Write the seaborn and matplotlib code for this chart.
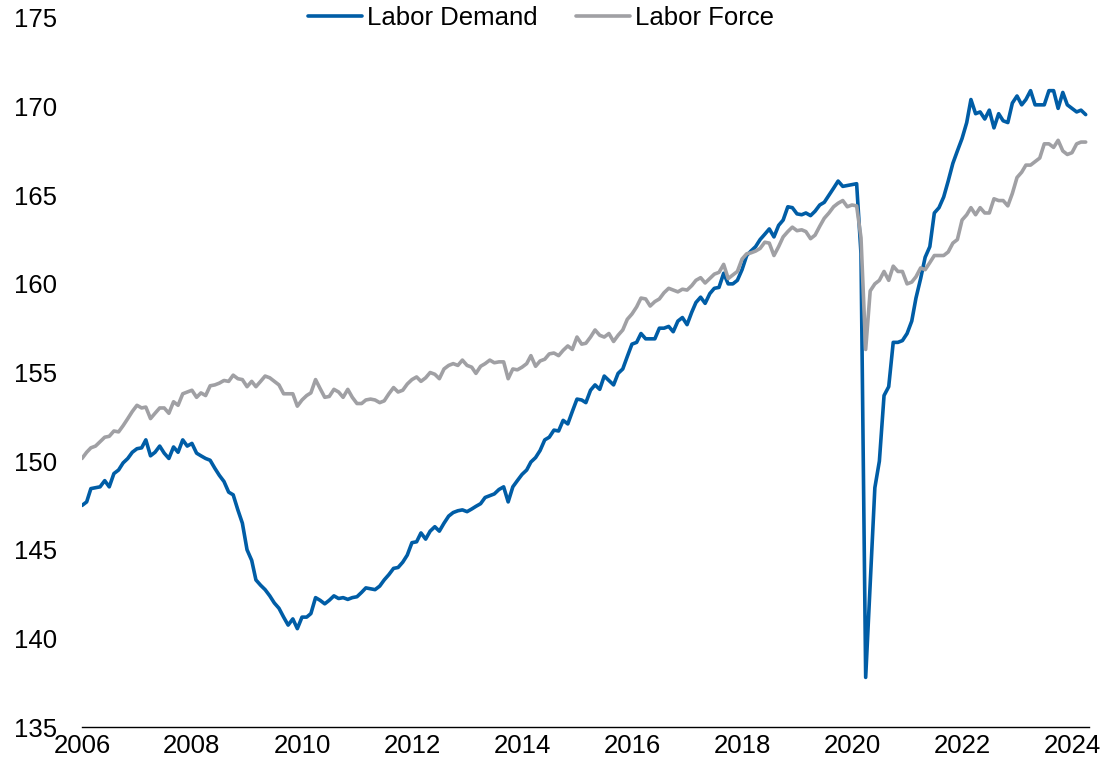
import pandas as pd
import seaborn as sns
import matplotlib.pyplot as plt
import matplotlib.dates as mdates

# Monthly values in millions, Jan 2006 - Apr 2024 (one row per year)
demand_2006_2011 = [
    147.5, 147.7, 148.45, 148.5, 148.55, 148.9, 148.55, 149.3, 149.5, 149.9, 150.15, 150.5,
    150.7, 150.75, 151.2, 150.3, 150.5, 150.85, 150.45, 150.15, 150.8, 150.5, 151.2, 150.85,
    151.0, 150.45, 150.3, 150.15, 150.05, 149.6, 149.2, 148.85, 148.25, 148.1, 147.25, 146.5,
    145.0, 144.4, 143.3, 143.0, 142.75, 142.4, 142.0, 141.7, 141.2, 140.75, 141.1, 140.55,
    141.2, 141.2, 141.4, 142.3, 142.15, 141.95, 142.15, 142.4, 142.25, 142.3, 142.2, 142.3,
    142.35, 142.6, 142.85, 142.8, 142.75, 142.95, 143.3, 143.6, 143.95, 144.0, 144.3, 144.7,
]
demand_2012_2017 = [
    145.4, 145.45, 145.95, 145.6, 146.05, 146.3, 146.05, 146.5, 146.9, 147.1, 147.2, 147.25,
    147.15, 147.3, 147.45, 147.6, 147.95, 148.05, 148.15, 148.4, 148.55, 147.7, 148.55, 148.9,
    149.25, 149.5, 149.95, 150.2, 150.6, 151.2, 151.35, 151.75, 151.7, 152.3, 152.1, 152.8,
    153.5, 153.45, 153.3, 154.0, 154.3, 154.05, 154.8, 154.55, 154.3, 154.95, 155.2, 155.9,
    156.6, 156.7, 157.2, 156.9, 156.9, 156.9, 157.5, 157.5, 157.6, 157.3, 157.9, 158.1,
    157.7, 158.4, 158.95, 159.25, 158.9, 159.45, 159.75, 159.8, 160.6, 160.0, 160.0, 160.2,
]
demand_2018_2024 = [
    160.8, 161.6, 161.85, 162.1, 162.5, 162.8, 163.1, 162.65, 163.3, 163.6, 164.35, 164.3,
    163.95, 163.9, 164.0, 163.85, 164.1, 164.45, 164.6, 165.0, 165.4, 165.8, 165.5, 165.55,
    165.6, 165.65, 161.7, 137.8, 143.0, 148.5, 150.0, 153.7, 154.2, 156.7, 156.7, 156.8,
    157.2, 157.9, 159.2, 160.3, 161.5, 162.1, 164.0, 164.3, 164.9, 165.8, 166.8, 167.5,
    168.2, 169.1, 170.4, 169.6, 169.7, 169.3, 169.8, 168.8, 169.6, 169.2, 169.1, 170.2,
    170.6, 170.1, 170.4, 170.9, 170.1, 170.1, 170.1, 170.9, 170.9, 169.9, 170.8, 170.1,
    169.9, 169.7, 169.8, 169.55,
]

force_2006_2011 = [
    150.15, 150.5, 150.75, 150.85, 151.1, 151.35, 151.4, 151.7, 151.65, 152.0, 152.4, 152.8,
    153.15, 153.0, 153.05, 152.4, 152.7, 153.0, 153.0, 152.7, 153.35, 153.15, 153.8, 153.9,
    154.0, 153.6, 153.85, 153.7, 154.25, 154.3, 154.4, 154.55, 154.5, 154.85, 154.65, 154.6,
    154.2, 154.5, 154.2, 154.5, 154.8, 154.7, 154.5, 154.3, 153.8, 153.8, 153.8, 153.1,
    153.45, 153.7, 153.85, 154.6, 154.1, 153.6, 153.65, 154.05, 153.9, 153.6, 154.05, 153.6,
    153.25, 153.25, 153.45, 153.5, 153.45, 153.3, 153.4, 153.8, 154.15, 153.9, 154.0, 154.35,
]
force_2012_2017 = [
    154.6, 154.75, 154.5, 154.7, 155.0, 154.9, 154.65, 155.2, 155.4, 155.5, 155.4, 155.7,
    155.4, 155.3, 154.95, 155.35, 155.5, 155.7, 155.55, 155.6, 155.6, 154.65, 155.2, 155.15,
    155.3, 155.5, 155.95, 155.35, 155.65, 155.75, 156.05, 156.1, 155.95, 156.25, 156.5, 156.3,
    157.0, 156.6, 156.65, 157.0, 157.4, 157.1, 157.0, 157.2, 156.75, 157.1, 157.4, 158.0,
    158.3, 158.7, 159.2, 159.15, 158.75, 159.0, 159.15, 159.5, 159.75, 159.65, 159.55, 159.7,
    159.65, 159.9, 160.2, 160.35, 160.05, 160.3, 160.55, 160.65, 161.1, 160.3, 160.5, 160.7,
]
force_2018_2024 = [
    161.4, 161.7, 161.75, 161.85, 162.0, 162.35, 162.3, 161.6, 162.1, 162.65, 162.95, 163.2,
    163.0, 163.05, 162.95, 162.55, 162.75, 163.25, 163.7, 164.0, 164.35, 164.55, 164.7, 164.35,
    164.45, 164.4, 162.6, 156.3, 159.6, 160.0, 160.2, 160.7, 160.2, 161.0, 160.7, 160.7,
    160.0, 160.1, 160.4, 160.9, 160.8, 161.2, 161.6, 161.6, 161.6, 161.8, 162.3, 162.5,
    163.6, 163.9, 164.3, 163.9, 164.3, 164.0, 164.0, 164.8, 164.7, 164.7, 164.4, 165.1,
    166.0, 166.3, 166.7, 166.7, 166.9, 167.1, 167.9, 167.9, 167.7, 168.1, 167.5, 167.3,
    167.4, 167.9, 168.0, 168.0,
]

series_names = ['Labor Demand', 'Labor Force']
y_ticks = [135, 140, 145, 150, 155, 160, 165, 170, 175]

labor_demand = demand_2006_2011 + demand_2012_2017 + demand_2018_2024
labor_force = force_2006_2011 + force_2012_2017 + force_2018_2024
dates = pd.date_range('2006-01-01', periods=len(labor_demand), freq='MS')

df = pd.DataFrame({'Date': dates, series_names[0]: labor_demand, series_names[1]: labor_force})
melted = pd.melt(df, id_vars=['Date'], value_vars=series_names,
                 var_name='Series', value_name='Value')

sns.set_theme(style="white")
plt.rcParams['font.family'] = ['Liberation Sans', 'DejaVu Sans']
plt.rcParams['text.color'] = 'black'

fig = plt.figure(figsize=(11.02, 7.75), dpi=100)
ax = fig.add_axes([0.0744, 0.0619, 0.9138, 0.9149])

sns.lineplot(data=melted, x='Date', y='Value', hue='Series',
             palette={'Labor Demand': '#005DA6', 'Labor Force': '#A0A0A4'},
             linewidth=2.6, ax=ax)

ax.set_ylim(135, 175)
ax.set_yticks(y_ticks)
ax.set_xlim(dates[0], dates[-1] + pd.Timedelta(days=22))
ax.xaxis.set_major_locator(mdates.YearLocator(2))
ax.xaxis.set_major_formatter(mdates.DateFormatter('%Y'))
ax.set_xlabel('')
ax.set_ylabel('')

for side in ['left', 'right', 'top']:
    ax.spines[side].set_visible(False)
ax.spines['bottom'].set_color('black')
ax.spines['bottom'].set_linewidth(1.0)

ax.tick_params(axis='y', length=0, pad=18, labelsize=18.5, labelcolor='black')
ax.tick_params(axis='x', length=0, pad=5, labelsize=18.5, labelcolor='black')

sns.move_legend(ax, 'center', bbox_to_anchor=(0.456, 1.0), ncol=2, frameon=False,
                title=None, fontsize=18.5, handlelength=2.1, handletextpad=0.2,
                columnspacing=1.5)
for txt in ax.get_legend().get_texts():
    txt.set_color('black')

plt.savefig('out.png', dpi=100)
plt.close()
